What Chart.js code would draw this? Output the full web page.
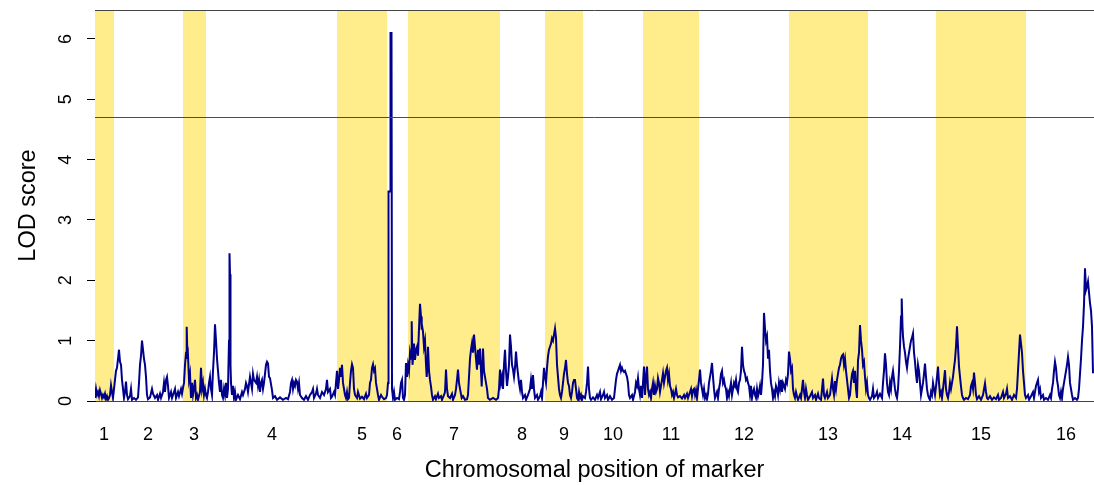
<!DOCTYPE html>
<html>
<head>
<meta charset="utf-8">
<script src="https://cdn.jsdelivr.net/npm/chart.js@4.4.1/dist/chart.umd.min.js"></script>
<style>
  html, body { margin: 0; padding: 0; background: #fff; }
  canvas { display: block; }
</style>
</head>
<body>
<canvas id="lodChart" width="1094" height="485"></canvas>
<script>
// LOD profile along the genome, [cumulative map position, LOD] per chromosome
const chr1 = [[0,0.05],[1,0.2],[2,0.1],[3,0.15],[4,0.08],[5,0.18],[6,0.12],[7,0.05],[8,0.1],[9,0.06],[10,0.12],[11,0.03],[12,0.08],[13,0.02],[14,0.05],[15,0.1],[16,0.26],[17,0.15],[18,0.05]];
const chr2 = [[19,0.2],[20,0.35],[21,0.5],[22,0.55],[23,0.7],[24,0.85],[25,0.65],[26,0.6],[27,0.35],[28,0.2],[29,0.05],[30,0.15],[31,0.32],[32,0.1],[33,0.03],[35,0.08],[36,0.2],[37,0.02],[39,0.05],[41,0.02],[43,0.06],[44,0.3],[45,0.6],[46,0.75],[47,1.0],[48,0.85],[49,0.7],[50,0.6],[51,0.4],[52,0.1],[53,0.03],[55,0.06],[57,0.2],[58,0.12],[60,0.05],[62,0.1],[63,0.02],[65,0.12],[66,0.05],[68,0.15],[69,0.3],[70,0.15],[71,0.35],[72,0.4],[73,0.25],[74,0.05],[76,0.15],[77,0.05],[78,0.1],[80,0.2],[81,0.05],[83,0.15],[84,0.08],[86,0.2],[87,0.12]];
const chr3 = [[88,0.22],[89,0.3],[90,0.6],[91,0.8],[91.7,1.23],[92.5,0.7],[93,0.75],[94,0.35],[95,0.45],[96,0.05],[97,0.3],[98,0.1],[99,0.2],[100,0.35],[101,0.05],[102,0.1],[103,0.02],[105,0.15],[106,0.55],[107,0.2],[108,0.3],[109,0.1],[110,0.2]];
const chr4 = [[111,0.1],[112,0.05],[113,0.15],[114,0.3],[115,0.4],[116,0.2],[117,0.1],[118,0.5],[119,0.8],[120,1.27],[121,1.0],[122,0.7],[123,0.5],[124,0.3],[125,0.15],[126,0.35],[127,0.1],[128,0.05],[129,0.2],[130,0.1],[131,0.3],[132,0.05],[133,0.2],[134,1.0],[134.5,2.45],[135,2.1],[135.5,0.6],[136,0.3],[137,0.1],[138,0.25],[139,0.05],[140,0.15],[141,0.02],[143,0.1],[145,0.03],[147,0.15],[148,0.1],[150,0.2],[151,0.3],[152,0.25],[153,0.15],[155,0.4],[156,0.3],[157,0.2],[158,0.45],[159,0.35],[161,0.3],[162,0.4],[163,0.25],[164,0.35],[165,0.15],[166,0.3],[167,0.35],[168,0.2],[169,0.3],[170,0.45],[171,0.6],[172,0.65],[173,0.62],[174,0.4],[175,0.38],[176,0.28],[177,0.18],[178,0.05],[180,0.08],[182,0.02],[185,0.06],[188,0.02],[191,0.05],[193,0.03],[195,0.15],[196,0.3],[197,0.35],[198,0.2],[199,0.3],[200,0.25],[201,0.35],[202,0.32],[203,0.2],[204,0.3],[205,0.1],[207,0.05],[209,0.02],[211,0.08],[213,0.02],[215,0.1],[217,0.15],[218,0.2],[219,0.05],[221,0.12],[222,0.2],[223,0.1],[225,0.05],[227,0.15],[229,0.1],[231,0.2],[232,0.35],[233,0.15],[235,0.2],[236,0.05],[237,0.07],[239,0.15],[240,0.1],[241,0.3]];
const chr5 = [[242,0.5],[243,0.2],[244,0.35],[245,0.55],[246,0.4],[247,0.6],[248,0.3],[249,0.2],[250,0.1],[251,0.05],[252,0.15],[253,0.03],[254,0.05],[255,0.3],[256,0.5],[257,0.61],[258,0.55],[259,0.2],[260,0.1],[262,0.05],[263,0.15],[265,0.04],[267,0.07],[269,0.03],[271,0.12],[272,0.05],[274,0.1],[275,0.3],[276,0.35],[277,0.55],[278,0.61],[279,0.5],[280,0.54],[281,0.3],[282,0.2],[283,0.1],[284,0.02],[286,0.1],[287,0.07],[289,0.03],[291,0.05]];
const chr6 = [[292,0.1],[293,0.3],[293.5,3.47],[295,3.47],[295.5,6.1],[296.5,6.1],[297,0.2],[298,0.05],[299,0.15],[300,0.02],[302,0.05],[304,0.03],[305,0.15],[306,0.3],[307,0.35],[308,0.05],[309,0.02],[310,0.1],[311,0.63],[312,0.4]];
const chr7 = [[313,0.6],[314,0.5],[315,0.8],[316,0.7],[316.7,1.32],[317.5,0.6],[318,0.7],[319,0.95],[320,0.68],[321,0.85],[322,0.9],[323,0.75],[324,1.2],[325,1.61],[326,1.4],[326.7,1.18],[327,1.25],[328,1.15],[329,0.9],[330,1.0],[331,0.6],[331.7,0.4],[332.5,0.6],[333,0.9],[334,0.5],[335,0.35],[336,0.24],[337,0.1],[338,0.02],[340,0.08],[341,0.03],[343,0.12],[344,0.05],[346,0.08],[347,0.02],[349,0.1],[350,0.15],[351,0.52],[352,0.2],[353,0.08],[355,0.05],[357,0.12],[358,0.02],[360,0.1],[361,0.2],[362,0.35],[363,0.52],[364,0.3],[365,0.2],[366.7,0.05],[368,0.08],[370,0.02],[372,0.03],[373,0.1],[374,0.4],[375,0.7],[376,0.85],[377,0.96],[378,0.8],[379,1.1],[380,0.9],[381,0.7],[382,0.52],[383,0.85],[384,0.6],[385,0.87],[386,0.5],[386.7,0.24],[387.5,0.6],[388,0.87],[389,0.5],[390,0.4],[391,0.3],[392,0.2],[393,0.05],[395,0.02],[398,0.05],[401,0.02],[403,0.05],[404,0.2]];
const chr8 = [[405,0.52],[406,0.3],[407,0.4],[408,0.2],[409,0.6],[410,0.85],[411,0.5],[412,0.25],[413,0.4],[414,0.6],[415,1.1],[416,0.9],[417,0.6],[418,0.52],[419,0.4],[420,0.55],[421,0.82],[422,0.6],[423,0.45],[424,0.3],[425,0.2],[426,0.35],[427,0.15],[428,0.05],[430,0.1],[431,0.02],[433,0.1],[435,0.2],[436,0.35],[437,0.2],[438,0.43],[439,0.2],[440,0.05],[442,0.1],[443,0.02],[445,0.08],[446,0.15],[447,0.05],[448,0.3],[449,0.55]];
const chr9 = [[450,0.4],[451,0.3],[452,0.55],[453,0.74],[454,0.85],[455,0.9],[456,0.95],[457,1.04],[458,1.0],[459,1.1],[460,1.2],[461,1.05],[462,0.6],[463,0.4],[464,0.2],[465,0.1],[466,0.05],[467,0.15],[468,0.3],[469,0.45],[470,0.55],[471,0.68],[472,0.45],[473,0.3],[474,0.25],[475,0.1],[476,0.05],[477,0.15],[478,0.3],[479,0.35],[480,0.35],[481,0.2],[482,0.05],[483,0.02],[484,0.15],[485,0.05],[486,0.1],[487,0.02]];
const chr10 = [[488,0.08],[490,0.05],[491,0.15],[492,0.3],[493,0.57],[494,0.2],[495,0.05],[496,0.02],[498,0.06],[500,0.02],[502,0.1],[503,0.05],[505,0.15],[506,0.03],[508,0.1],[509,0.15],[510,0.05],[512,0.1],[513,0.02],[515,0.08],[517,0.02],[519,0.05],[520,0.2],[521,0.35],[522,0.45],[523,0.5],[524,0.55],[525,0.6],[526,0.5],[527,0.55],[528,0.5],[529,0.48],[530,0.5],[531,0.45],[532,0.4],[533,0.3],[534,0.1],[535,0.05],[537,0.1],[538,0.02],[540,0.15],[541,0.3],[542,0.25],[543,0.38],[544,0.2],[545,0.1],[546,0.25],[547,0.05]];
const chr11 = [[548,0.3],[549,0.57],[550,0.1],[551,0.4],[552,0.57],[553,0.2],[554,0.1],[555,0.15],[556,0.05],[557,0.2],[558,0.3],[559,0.1],[560,0.25],[561,0.15],[562,0.2],[563,0.38],[564,0.3],[565,0.15],[566,0.25],[567,0.35],[568,0.46],[569,0.3],[570,0.4],[571,0.5],[572,0.55],[573,0.35],[574,0.45],[575,0.25],[576,0.2],[577,0.1],[578,0.15],[579,0.05],[580,0.12],[581,0.2],[582,0.1],[583,0.06],[585,0.08],[587,0.04],[589,0.1],[590,0.05],[592,0.12],[593,0.05],[595,0.15],[596,0.2],[597,0.08],[598,0.18],[599,0.2],[600,0.1],[601,0.18],[602,0.05],[603,0.2]];
const chr12 = [[604,0.35],[605,0.52],[606,0.3],[607,0.2],[608,0.1],[609,0.2],[610,0.05],[611,0.1],[612,0.03],[613,0.12],[614,0.3],[615,0.4],[616,0.5],[617,0.63],[618,0.4],[619,0.2],[620,0.05],[621,0.1],[622,0.15],[623,0.05],[624,0.2],[625,0.3],[626,0.45],[627,0.5],[628,0.3],[629,0.35],[630,0.25],[631,0.2],[632,0.05],[633,0.15],[634,0.08],[635,0.2],[636,0.3],[637,0.1],[638,0.2],[639,0.3],[640,0.25],[641,0.35],[642,0.2],[643,0.15],[644,0.3],[645,0.35],[646,0.5],[647,0.9],[648,0.6],[649,0.5],[650,0.45],[651,0.35],[652,0.38],[653,0.3],[654,0.25],[655,0.1],[656,0.25],[657,0.05],[658,0.15],[659,0.2],[660,0.1],[661,0.05],[662,0.2],[663,0.08],[664,0.15],[665,0.25],[666,0.1],[667,0.3],[668,0.6],[669,1.46],[670,1.2],[671,1.0],[672,1.07],[673,0.7],[674,0.85],[675,0.5],[676,0.3],[677,0.2],[678,0.05],[679,0.15],[680,0.08],[681,0.25],[682,0.2],[683,0.1],[684,0.3],[685,0.2],[686,0.35],[687,0.15],[688,0.3],[689,0.25],[690,0.2],[691,0.35],[692,0.3],[693,0.45]];
const chr13 = [[694,0.82],[695,0.7],[696,0.5],[697,0.55],[698,0.2],[699,0.1],[700,0.05],[701,0.15],[702,0.08],[703,0.02],[705,0.1],[706,0.05],[708,0.35],[709,0.15],[710,0.05],[711,0.2],[712,0.1],[713,0.02],[715,0.08],[717,0.15],[718,0.05],[720,0.1],[721,0.02],[723,0.12],[724,0.05],[726,0.02],[728,0.37],[729,0.1],[730,0.05],[732,0.15],[733,0.05],[735,0.1],[737,0.37],[738,0.2],[739,0.1],[740,0.33],[741,0.2],[742,0.35],[743,0.45],[744,0.55],[745,0.6],[746,0.7],[747,0.75],[748,0.77],[749,0.6],[750,0.7],[751,0.5],[752,0.35],[753,0.2],[754,0.05],[755,0.1],[756,0.3],[757,0.45],[758,0.5],[759,0.3],[760,0.5],[761,0.2],[762,0.05],[763,0.67],[764,0.8],[765,1.26],[766,1.0],[767,0.85],[768,0.6],[769,0.65],[770,0.4],[771,0.2],[772,0.3]];
const chr14 = [[773,0.1],[774,0.05],[775,0.02],[777,0.08],[778,0.2],[779,0.05],[781,0.1],[782,0.15],[783,0.05],[785,0.12],[787,0.05],[788,0.3],[789,0.5],[790,0.79],[791,0.6],[792,0.3],[793,0.15],[794,0.1],[795,0.3],[796,0.2],[797,0.4],[798,0.5],[799,0.35],[800,0.2],[801,0.1],[802,0.05],[803,0.2],[804,0.5],[805,0.9],[806,1.4],[806.7,1.7],[807.5,1.23],[808,1.07],[809,0.9],[810,0.8],[811,0.65],[812,0.55],[813,0.7],[814,0.8],[815,0.9],[816,1.0],[817,1.05],[818,1.12],[819,0.8],[820,0.65],[821,0.45],[822,0.3],[823,0.6],[824,0.5],[825,0.3],[826,0.1],[827,0.2],[828,0.3],[829,0.45],[830,0.62],[831,0.4],[832,0.2],[833,0.1],[834,0.05],[835,0.02],[836,0.15],[837,0.1],[838,0.3],[839,0.2],[840,0.1]];
const chr15 = [[841,0.24],[842,0.4],[843,0.57],[844,0.3],[845,0.1],[846,0.15],[847,0.05],[848,0.2],[849,0.35],[850,0.51],[851,0.2],[852,0.1],[853,0.05],[854,0.15],[855,0.3],[856,0.2],[857,0.3],[858,0.4],[859,0.55],[860,0.68],[861,0.9],[862,1.24],[863,0.9],[864,0.57],[865,0.4],[866,0.24],[867,0.1],[868,0.05],[869,0.02],[871,0.05],[873,0.03],[875,0.1],[876,0.25],[877,0.3],[878,0.2],[879,0.47],[880,0.3],[881,0.1],[882,0.03],[884,0.08],[886,0.02],[888,0.1],[890,0.29],[891,0.15],[892,0.05],[893,0.03],[895,0.08],[897,0.02],[899,0.06],[901,0.03],[903,0.1],[904,0.02],[906,0.05],[908,0.15],[909,0.05],[911,0.12],[912,0.2],[913,0.05],[915,0.08],[917,0.02],[919,0.1],[921,0.05],[922,0.2],[923,0.5],[924,0.8],[925,1.1],[926,0.95],[927,0.8],[928,0.5],[929,0.3],[930,0.1]];
const chr16 = [[931,0.05],[933,0.1],[934,0.02],[936,0.08],[938,0.15],[939,0.05],[941,0.25],[942,0.3],[943,0.35],[944,0.15],[945,0.2],[946,0.05],[948,0.1],[949,0.02],[951,0.05],[953,0.02],[955,0.1],[956,0.05],[957,0.2],[958,0.3],[959,0.5],[960,0.65],[961,0.55],[962,0.35],[963,0.25],[964,0.1],[965,0.05],[966,0.15],[967,0.05],[968,0.2],[969,0.3],[970,0.4],[971,0.5],[972,0.6],[973,0.73],[974,0.6],[975,0.3],[976,0.2],[977,0.1],[978,0.02],[980,0.05],[982,0.02],[983,0.05],[984,0.2],[985,0.45],[986,0.7],[987,1.0],[988,1.23],[989,1.6],[990,2.2],[991,1.84],[992,1.9],[993,1.98],[994,1.8],[995,1.62],[996,1.5],[997,1.23],[998,0.46]];

// chromosome boundaries on the same map scale
const chrStart = [0, 19, 88, 111, 242, 292, 313, 405, 450, 488, 548, 604, 694, 773, 841, 931];
const chrEnd   = [19, 88, 111, 242, 292, 313, 405, 450, 488, 548, 604, 694, 773, 841, 931, 999];
const chrNames = ['1','2','3','4','5','6','7','8','9','10','11','12','13','14','15','16'];
const chrLabelPos = [9, 53, 99, 177, 267, 302, 359, 427, 469, 518, 576, 649, 733, 807, 886, 971];
const yTicks = [0, 1, 2, 3, 4, 5, 6];
const threshold = 4.7;

const lodData = [chr1, chr2, chr3, chr4, chr5, chr6, chr7, chr8, chr9, chr10, chr11, chr12, chr13, chr14, chr15, chr16]
  .flat().map(p => ({x: p[0], y: p[1]}));

const FONT = '"Liberation Sans", Arial, Helvetica, sans-serif';

// shade odd chromosomes
const chrBands = {
  id: 'chrBands',
  beforeDatasetsDraw(chart) {
    const {ctx, chartArea, scales: {x}} = chart;
    ctx.save();
    ctx.fillStyle = '#FFEC8B';
    for (let i = 0; i < chrStart.length; i += 2) {
      const x0 = x.getPixelForValue(chrStart[i]);
      const x1 = x.getPixelForValue(chrEnd[i]);
      ctx.fillRect(x0, chartArea.top, x1 - x0, chartArea.bottom - chartArea.top);
    }
    ctx.restore();
  }
};

// significance threshold across the whole genome
const thresholdLine = {
  id: 'thresholdLine',
  afterDatasetsDraw(chart) {
    const {ctx, chartArea, scales: {y}} = chart;
    const py = Math.round(y.getPixelForValue(threshold)) + 0.5;
    ctx.save();
    ctx.strokeStyle = '#FF0000';
    ctx.lineWidth = 1;
    ctx.beginPath();
    ctx.moveTo(chartArea.left, py);
    ctx.lineTo(chartArea.right, py);
    ctx.stroke();
    ctx.restore();
  }
};

// frame top line + y labels written along the axis
const frameAndLabels = {
  id: 'frameAndLabels',
  afterDraw(chart) {
    const {ctx, chartArea, scales: {y}} = chart;
    ctx.save();
    ctx.strokeStyle = '#444';
    ctx.lineWidth = 1;
    ctx.beginPath();
    ctx.moveTo(chartArea.left, Math.round(chartArea.top) + 0.5);
    ctx.lineTo(chartArea.right, Math.round(chartArea.top) + 0.5);
    ctx.stroke();

    ctx.fillStyle = '#000';
    ctx.font = '18px ' + FONT;
    ctx.textAlign = 'center';
    ctx.textBaseline = 'middle';
    yTicks.forEach(v => {
      const py = y.getPixelForValue(v);
      ctx.save();
      ctx.translate(66, py);
      ctx.rotate(-Math.PI / 2);
      ctx.fillText(String(v), 0, 0);
      ctx.restore();
    });
    ctx.restore();
  }
};

new Chart(document.getElementById('lodChart'), {
  type: 'line',
  data: {
    datasets: [
      {
        data: lodData,
        borderColor: '#00008B',
        borderWidth: 2,
        pointRadius: 0,
        tension: 0
      }
    ]
  },
  options: {
    responsive: false,
    animation: false,
    layout: {padding: {top: 10, right: 0, bottom: 0, left: 0}},
    plugins: {legend: {display: false}, tooltip: {enabled: false}},
    scales: {
      x: {
        type: 'linear',
        min: 0,
        max: 999,
        afterBuildTicks(scale) {
          scale.ticks = chrLabelPos.map(v => ({value: v}));
        },
        afterFit(scale) { scale.height = 84; },
        // invisible tick marks push the labels down without widening the side padding
        grid: {display: true, drawOnChartArea: false, drawTicks: true, tickLength: 23, color: 'rgba(0,0,0,0)'},
        border: {display: true, color: '#444', width: 1},
        ticks: {
          autoSkip: false,
          maxRotation: 0,
          padding: 0,
          color: '#000',
          font: {family: FONT, size: 18},
          callback: (v, i) => chrNames[i]
        },
        title: {
          display: true,
          text: 'Chromosomal position of marker',
          color: '#000',
          font: {family: FONT, size: 23.5},
          padding: {top: 0, bottom: 0}
        }
      },
      y: {
        min: 0,
        max: 6.48,
        afterBuildTicks(scale) {
          scale.ticks = yTicks.map(v => ({value: v}));
        },
        afterFit(scale) { scale.width = 95; },
        grid: {display: true, drawOnChartArea: false, drawTicks: true, tickLength: 8, color: '#000'},
        border: {display: true, color: '#000', width: 1},
        ticks: {color: 'rgba(0,0,0,0)', padding: 0, font: {family: FONT, size: 1}},
        title: {
          display: true,
          text: 'LOD score',
          color: '#000',
          font: {family: FONT, size: 23.5},
          padding: {top: 14, bottom: 0}
        }
      }
    }
  },
  plugins: [chrBands, thresholdLine, frameAndLabels]
});
</script>
</body>
</html>
